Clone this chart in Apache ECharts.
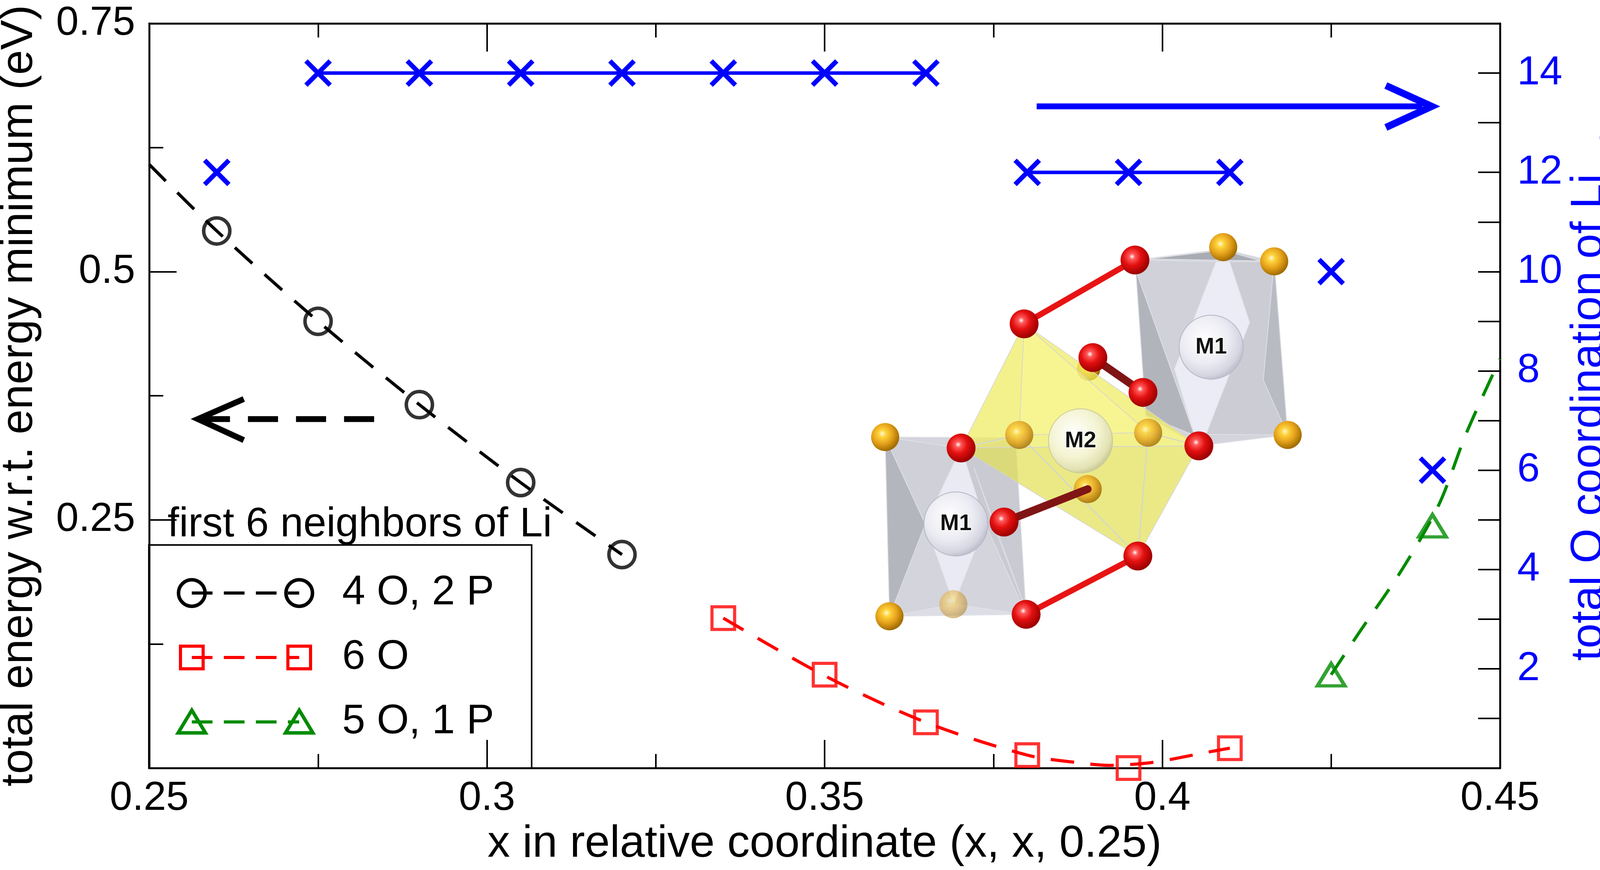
<!doctype html>
<html>
<head>
<meta charset="utf-8">
<title>Li site energy and coordination</title>
<style>html,body{margin:0;padding:0;background:#fff}#main{width:4157px;height:2227px}</style>
</head>
<body>
<div id="main"></div>
<script src="https://cdn.jsdelivr.net/npm/echarts@6/dist/echarts.min.js"></script>
<script>
var FONT = '"Liberation Sans", Arial, Helvetica, sans-serif';

// energies (left axis), one array per neighbour set
var xFourO = [0.26, 0.275, 0.29, 0.305, 0.32];
var eFourO = [0.541, 0.450, 0.366, 0.2875, 0.215];
var xSixO = [0.335, 0.35, 0.365, 0.38, 0.395, 0.41];
var eSixO = [0.151, 0.094, 0.046, 0.013, 0.0, 0.020];
var xFiveO = [0.425, 0.44];
var eFiveO = [0.094, 0.244];

// dashed guide curves
var fitFourOX = [0.25, 0.26, 0.275, 0.29, 0.305, 0.32];
var fitFourOE = [0.608, 0.541, 0.450, 0.366, 0.2875, 0.215];
var fitSixOX = [0.335, 0.35, 0.365, 0.38, 0.3875, 0.392, 0.3975, 0.4015, 0.4065, 0.41];
var fitSixOE = [0.151, 0.093, 0.046, 0.013, 0.0054, 0.0027, 0.0048, 0.009, 0.0157, 0.020];
var fitFiveOX = [0.425, 0.429, 0.4355, 0.441, 0.445, 0.45];
var fitFiveOE = [0.094, 0.135, 0.200, 0.266, 0.337, 0.412];

// total O coordination of Li_M2 (right axis); same run = joined by a line
var coordX = [0.26, 0.275, 0.29, 0.305, 0.32, 0.335, 0.35, 0.365, 0.38, 0.395, 0.41, 0.425, 0.44];
var coordN = [12, 14, 14, 14, 14, 14, 14, 14, 12, 12, 12, 10, 6];
var coordRun = [0, 1, 1, 1, 1, 1, 1, 1, 2, 2, 2, 3, 4];

// arrows pointing at the axis each group belongs to
var arrowLeftShaft = [[0.2833, 0.3515], [0.2578, 0.3515]];
var arrowLeftHead = [[0.2640, 0.3717], [0.2572, 0.3515], [0.2640, 0.3303]];
var arrowRightShaft = [[0.3814, 13.33], [0.4385, 13.33]];
var arrowRightHead = [[0.4331, 13.75], [0.4399, 13.33], [0.4331, 12.905]];

var legendTitle = 'first 6 neighbors of Li';
var legendNames = ['4 O, 2 P', '6 O', '5 O, 1 P'];
var rightTitle = 'total O coordination of Li';
var rightTitleSub = 'M2';
var setColors = ['#000000', '#ff0000', '#008b00'];
var BLUE = '#0000ff';

function pairs(xs, ys) {
    var out = [];
    for (var i = 0; i < xs.length; i++) out.push([xs[i], ys[i]]);
    return out;
}

var hollow = function (c, w) {
    return { color: 'rgba(0,0,0,0)', borderColor: c, borderWidth: w };
};
var CROSS = 'path://M0,0L10,10M10,0L0,10';

var series = [];
[[fitFourOX, fitFourOE], [fitSixOX, fitSixOE], [fitFiveOX, fitFiveOE]].forEach(function (f, i) {
    series.push({
        type: 'line', yAxisIndex: 0, data: pairs(f[0], f[1]), smooth: 0.3,
        showSymbol: false, silent: true, z: 2,
        lineStyle: { color: setColors[i], width: 8, type: [60, 42] }
    });
});
var markerSets = [
    { xs: xFourO, ys: eFourO, symbol: 'circle', size: 67, bw: 9 },
    { xs: xSixO, ys: eSixO, symbol: 'rect', size: 58, bw: 8 },
    { xs: xFiveO, ys: eFiveO, symbol: 'triangle', size: [70, 57], bw: 9 }
];
markerSets.forEach(function (m, i) {
    series.push({
        type: 'scatter', yAxisIndex: 0, data: pairs(m.xs, m.ys),
        symbol: m.symbol, symbolSize: m.size, z: 3,
        itemStyle: hollow(setColors[i], m.bw), emphasis: { disabled: true }
    });
});
var runs = {};
coordX.forEach(function (x, i) {
    (runs[coordRun[i]] = runs[coordRun[i]] || []).push([x, coordN[i]]);
});
Object.keys(runs).forEach(function (k) {
    series.push({
        type: 'line', yAxisIndex: 1, data: runs[k], z: 4,
        symbol: CROSS, symbolSize: 62, showSymbol: true,
        lineStyle: { color: BLUE, width: 9 },
        itemStyle: { color: BLUE, borderColor: BLUE, borderWidth: 12 },
        emphasis: { disabled: true }
    });
});
series.push(
    { type: 'line', yAxisIndex: 0, data: arrowLeftShaft, showSymbol: false, silent: true, z: 4,
      lineStyle: { color: '#000', width: 15, type: [77, 46] } },
    { type: 'line', yAxisIndex: 0, data: arrowLeftHead, showSymbol: false, silent: true, z: 4,
      lineStyle: { color: '#000', width: 15, join: 'miter', cap: 'butt' } },
    { type: 'line', yAxisIndex: 1, data: arrowRightShaft, showSymbol: false, silent: true, z: 4,
      lineStyle: { color: BLUE, width: 15 } },
    { type: 'line', yAxisIndex: 1, data: arrowRightHead, showSymbol: false, silent: true, z: 4,
      lineStyle: { color: BLUE, width: 18, join: 'miter', cap: 'butt' } }
);

var frameLine = { show: true, onZero: false, lineStyle: { color: '#000', width: 5 } };
function xAxisOf(pos) {
    return {
        type: 'value', position: pos, min: 0.25, max: 0.45, interval: 0.05,
        axisLine: frameLine, splitLine: { show: false },
        axisTick: { show: true, inside: true, length: 72, lineStyle: { color: '#000', width: 4 } },
        minorTick: { show: true, splitNumber: 2, length: 36, lineStyle: { color: '#000', width: 4 } },
        axisLabel: { show: pos === 'bottom', fontSize: 104, fontFamily: FONT, color: '#000', margin: 26,
                     showMinLabel: true, showMaxLabel: true }
    };
}
var xBottom = xAxisOf('bottom');
xBottom.name = 'x in relative coordinate (x, x, 0.25)';
xBottom.nameLocation = 'middle';
xBottom.nameGap = 138;
xBottom.nameTextStyle = { fontSize: 115, fontFamily: FONT, color: '#000' };

var option = {
    animation: false,
    backgroundColor: '#fff',
    grid: { left: 382, right: 317, top: 60, bottom: 261, outerBoundsMode: 'none', containLabel: false },
    xAxis: [xBottom, xAxisOf('top')],
    yAxis: [{
        type: 'value', position: 'left', min: 0, max: 0.75, interval: 0.25,
        axisLine: frameLine, splitLine: { show: false },
        axisTick: { show: true, inside: true, length: 70, lineStyle: { color: '#000', width: 4 } },
        minorTick: { show: true, splitNumber: 2, length: 36, lineStyle: { color: '#000', width: 4 } },
        axisLabel: { fontSize: 104, fontFamily: FONT, color: '#000', margin: 36, showMaxLabel: true,
                     formatter: function (v) { return v === 0 ? '' : String(v); } },
        name: 'total energy w.r.t. energy minimum (eV)',
        nameLocation: 'middle', nameRotate: 90, nameGap: 274,
        nameTextStyle: { fontSize: 115, fontFamily: FONT, color: '#000' }
    }, {
        type: 'value', position: 'right', min: 0, max: 15, interval: 1,
        axisLine: frameLine, splitLine: { show: false },
        axisTick: { show: true, inside: true, length: 56, lineStyle: { color: '#000', width: 4 } },
        axisLabel: { fontSize: 104, fontFamily: FONT, color: BLUE, margin: 44,
                     formatter: function (v) { return (v > 0 && v < 15 && v % 2 === 0) ? String(v) : ''; } }
    }],
    series: series
};

function label(text, x, y, font, fill, align, extra) {
    var st = { text: text, font: font, fill: fill, align: align, verticalAlign: 'middle',
               textAlign: align, textVerticalAlign: 'middle' };
    if (extra) for (var k in extra) st[k] = extra[k];
    return { type: 'text', x: x, y: y, style: st };
}

// ---- right axis title with subscript, rotated to read upwards
var rightTitleGroup = {
    type: 'group', x: 4069, y: 1013, rotation: Math.PI / 2, silent: true,
    children: [
        label(rightTitle, 568, 0, '115px ' + FONT, BLUE, 'right'),
        label(rightTitleSub, 574, 59, '78px ' + FONT, BLUE, 'left')
    ]
};

// ---- legend box (drawn by hand to get the symbol - - symbol look)
var legendRowsY = [1518, 1683, 1848];
var legendChildren = [
    { type: 'rect', shape: { x: 381, y: 1395, width: 980, height: 571 },
      style: { fill: '#fff', stroke: '#000', lineWidth: 4 } },
    label(legendTitle, 429, 1344, '106px ' + FONT, '#000', 'left')
];
function legendSymbol(kind, cx, cy, color) {
    if (kind === 'circle') return { type: 'circle', shape: { cx: cx, cy: cy, r: 34 },
        style: { fill: 'none', stroke: color, lineWidth: 9 } };
    if (kind === 'rect') return { type: 'rect', shape: { x: cx - 29, y: cy - 29, width: 58, height: 58 },
        style: { fill: 'none', stroke: color, lineWidth: 8 } };
    return { type: 'polygon', shape: { points: [[cx, cy - 30], [cx - 35, cy + 28], [cx + 35, cy + 28]] },
        style: { fill: 'none', stroke: color, lineWidth: 9 } };
}
legendNames.forEach(function (name, i) {
    var y = legendRowsY[i], c = setColors[i], kind = markerSets[i].symbol;
    legendChildren.push(
        { type: 'line', shape: { x1: 491, y1: y, x2: 766, y2: y },
          style: { stroke: c, lineWidth: 8, lineDash: [53, 29] } },
        legendSymbol(kind, 491, y, c),
        legendSymbol(kind, 766, y, c),
        label(name, 876, y, '106px ' + FONT, '#000', 'left')
    );
});

// ---- inset: polyhedral sketch of the Li sites (pixel sketch, not data)
var SX = 0.7334, SY = 0.7015;
function P(x, y) { return [x * SX, y * SY]; }
function poly(pts, fill, stroke) {
    return { type: 'polygon', shape: { points: pts.map(function (p) { return P(p[0], p[1]); }) },
             style: { fill: fill, stroke: stroke || 'rgba(225,226,232,0.9)', lineWidth: 2 } };
}
function seg(a, b, color, w) {
    var p = P(a[0], a[1]), q = P(b[0], b[1]);
    return { type: 'line', shape: { x1: p[0], y1: p[1], x2: q[0], y2: q[1] },
             style: { stroke: color, lineWidth: w, lineCap: 'round' } };
}
function grad(stops) {
    return { type: 'radial', x: 0.4, y: 0.38, r: 0.62,
             colorStops: stops.map(function (s) { return { offset: s[0], color: s[1] }; }) };
}
var RED = grad([[0, '#ffffff'], [0.16, '#ff5a5a'], [0.5, '#e41010'], [1, '#9a0000']]);
var ORANGE = grad([[0, '#fffbe0'], [0.2, '#ffd43c'], [0.6, '#e4a01a'], [1, '#a06c00']]);
var PEARL = grad([[0, '#ffffff'], [0.6, '#ebebf3'], [0.9, '#d4d5e0'], [1, '#c2c3d0']]);
var CREAM = grad([[0, '#ffffff'], [0.6, '#f4f4d2'], [0.9, '#e2e2b4'], [1, '#cfcf9c']]);
function atom(a, r, fill, opacity, stroke) {
    var p = P(a[0], a[1]);
    return { type: 'circle', shape: { cx: p[0], cy: p[1], r: r },
             style: { fill: fill, opacity: opacity == null ? 1 : opacity,
                      stroke: stroke || null, lineWidth: stroke ? 2 : 0 } };
}
function tag(a, text) {
    var p = P(a[0], a[1]);
    return label(text, p[0], p[1], 'bold 58px ' + FONT, '#111', 'center', { stroke: '#fff', lineWidth: 4 });
}
var R1 = [962, 122], R2 = [575, 355], R3 = [815, 478], R4 = [990, 605], R5 = [355, 808],
    R6 = [1185, 800], R7 = [505, 1078], R8 = [972, 1202], R9 = [582, 1415];
var O1 = [1270, 75], O2 = [1448, 127], O3 = [90, 768], O4 = [1495, 760], O5 = [558, 760],
    O6 = [1008, 752], O7 = [797, 958], O8 = [105, 1422], O9 = [328, 1378];
var M1a = [1228, 440], M2 = [772, 782], M1b = [337, 1085];
var EDGE = 'rgba(212,212,212,0.9)';

var inset = [
    // lower-left octahedron
    poly([[90, 768], [545, 770], [582, 1415], [105, 1422]], '#d3d4dc'),
    poly([[90, 768], [230, 1085], [105, 1422]], '#b4b6be'),
    poly([[90, 768], [355, 808], [230, 1085]], '#cfd0d8'),
    poly([[355, 808], [545, 770], [582, 1415], [440, 1085]], '#c9cad2'),
    poly([[400, 880], [580, 1395], [480, 1120]], '#acaeb6'),
    poly([[105, 1422], [330, 1378], [582, 1415]], '#dcdde5'),
    poly([[355, 808], [440, 1085], [330, 1378], [230, 1085]], '#e9eaf3'),
    atom(O9, 36, ORANGE, 0.45),
    atom(M1b, 82, PEARL, 1, '#b4b6c4'),
    // upper-right octahedron
    poly([[962, 122], [1270, 82], [1448, 127], [1495, 760], [1185, 800], [1000, 690]], '#d3d4dc'),
    poly([[962, 122], [1245, 128], [1100, 520], [1170, 762], [965, 160]], '#d0d1d9'),
    poly([[965, 160], [1170, 762], [1000, 690]], '#b2b4bc'),
    poly([[1292, 128], [1448, 127], [1495, 760], [1210, 758], [1362, 350]], '#cbccd4'),
    poly([[1448, 127], [1495, 760], [1410, 560]], '#b9bbc3'),
    poly([[1245, 128], [1292, 128], [1362, 350], [1210, 758], [1170, 762], [1100, 520]], '#ececf6'),
    poly([[1010, 118], [1270, 86], [1400, 125]], '#a9abb3'),
    atom(M1a, 82, PEARL, 1, '#b4b6c4'),
    // yellow octahedron around M2
    atom([800, 520], 30, ORANGE),
    poly([R2, R6, R5], 'rgba(238,236,96,0.72)', EDGE),
    poly([R5, R6, R8], 'rgba(226,224,88,0.72)', EDGE),
    poly([R2, O6, O5], 'rgba(252,250,150,0.45)', EDGE),
    seg(R5, O5, EDGE, 3), seg(O6, R6, EDGE, 3), seg(O5, R8, EDGE, 3), seg(O6, R8, EDGE, 3),
    atom(O5, 36, ORANGE, 0.78), atom(O6, 36, ORANGE, 0.78), atom(O7, 36, ORANGE, 0.85),
    atom(M2, 82, CREAM, 1, '#c8c89a'),
    // bonds
    seg(R7, O7, '#801515', 20), seg(R3, R4, '#801515', 20),
    seg(R1, R2, '#e81414', 15), seg(R8, R9, '#e81414', 15),
    // corner atoms
    atom(O1, 36, ORANGE), atom(O2, 36, ORANGE), atom(O3, 36, ORANGE), atom(O4, 36, ORANGE), atom(O8, 36, ORANGE),
    atom(R1, 37, RED), atom(R2, 37, RED), atom(R3, 37, RED), atom(R4, 37, RED), atom(R5, 37, RED),
    atom(R6, 37, RED), atom(R7, 37, RED), atom(R8, 37, RED), atom(R9, 37, RED),
    tag(M1a, 'M1'), tag(M2, 'M2'), tag(M1b, 'M1')
];

option.graphic = [
    { type: 'group', x: 2200, y: 580, z: 1, silent: true, children: inset },
    { type: 'group', x: 0, y: 0, z: 10, silent: true, children: legendChildren },
    rightTitleGroup
];

var chart = echarts.init(document.getElementById('main'));
chart.setOption(option);
window.onresize = chart.resize;
</script>
</body>
</html>
